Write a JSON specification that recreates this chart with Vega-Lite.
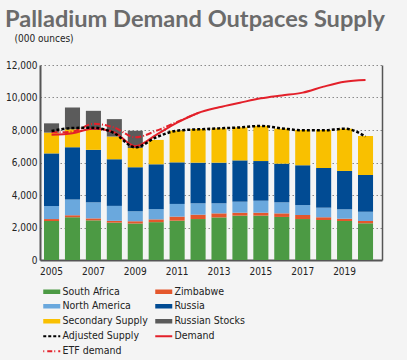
{
  "$schema": "https://vega.github.io/schema/vega-lite/v6.json",
  "width": 342,
  "height": 195,
  "autosize": {"type": "none"},
  "padding": {"left": 40, "top": 65, "right": 25, "bottom": 100},
  "background": "#f4f4f4",
  "title": {
    "text": "Palladium Demand Outpaces Supply",
    "anchor": "start",
    "frame": "group",
    "font": "Lato",
    "fontWeight": "bold",
    "fontSize": 23.6,
    "color": "#6b6b6b",
    "dx": -35,
    "dy": 11,
    "offset": 12
  },
  "config": {
    "view": {"stroke": null},
    "font": "Liberation Sans Narrow, DejaVu Sans Condensed, sans-serif",
    "legend": {
      "orient": "none",
      "legendX": 3,
      "legendY": 221,
      "columns": 2,
      "direction": "horizontal",
      "gridAlign": "all",
      "padding": 0,
      "columnPadding": -2,
      "rowPadding": -12,
      "symbolType": "M-1,0H2.4",
      "symbolSize": 100,
      "labelOffset": 9,
      "labelFont": "Liberation Sans Narrow, DejaVu Sans Condensed, sans-serif",
      "labelFontSize": 10.5,
      "labelColor": "#222222",
      "labelLimit": 200,
      "title": null
    }
  },
  "datasets": {
    "supply": [
      {"year": "2005", "source": "South Africa", "value": 2400},
      {"year": "2005", "source": "Zimbabwe", "value": 120},
      {"year": "2005", "source": "North America", "value": 800},
      {"year": "2005", "source": "Russia", "value": 3240},
      {"year": "2005", "source": "Secondary Supply", "value": 1280},
      {"year": "2005", "source": "Russian Stocks", "value": 570},
      {"year": "2006", "source": "South Africa", "value": 2630},
      {"year": "2006", "source": "Zimbabwe", "value": 130},
      {"year": "2006", "source": "North America", "value": 970},
      {"year": "2006", "source": "Russia", "value": 3210},
      {"year": "2006", "source": "Secondary Supply", "value": 1100},
      {"year": "2006", "source": "Russian Stocks", "value": 1350},
      {"year": "2007", "source": "South Africa", "value": 2440},
      {"year": "2007", "source": "Zimbabwe", "value": 120},
      {"year": "2007", "source": "North America", "value": 990},
      {"year": "2007", "source": "Russia", "value": 3230},
      {"year": "2007", "source": "Secondary Supply", "value": 1220},
      {"year": "2007", "source": "Russian Stocks", "value": 1180},
      {"year": "2008", "source": "South Africa", "value": 2300},
      {"year": "2008", "source": "Zimbabwe", "value": 110},
      {"year": "2008", "source": "North America", "value": 920},
      {"year": "2008", "source": "Russia", "value": 2870},
      {"year": "2008", "source": "Secondary Supply", "value": 1400},
      {"year": "2008", "source": "Russian Stocks", "value": 1070},
      {"year": "2009", "source": "South Africa", "value": 2250},
      {"year": "2009", "source": "Zimbabwe", "value": 140},
      {"year": "2009", "source": "North America", "value": 610},
      {"year": "2009", "source": "Russia", "value": 2710},
      {"year": "2009", "source": "Secondary Supply", "value": 1180},
      {"year": "2009", "source": "Russian Stocks", "value": 1060},
      {"year": "2010", "source": "South Africa", "value": 2330},
      {"year": "2010", "source": "Zimbabwe", "value": 170},
      {"year": "2010", "source": "North America", "value": 630},
      {"year": "2010", "source": "Russia", "value": 2760},
      {"year": "2010", "source": "Secondary Supply", "value": 1500},
      {"year": "2011", "source": "South Africa", "value": 2420},
      {"year": "2011", "source": "Zimbabwe", "value": 250},
      {"year": "2011", "source": "North America", "value": 780},
      {"year": "2011", "source": "Russia", "value": 2560},
      {"year": "2011", "source": "Secondary Supply", "value": 1950},
      {"year": "2012", "source": "South Africa", "value": 2520},
      {"year": "2012", "source": "Zimbabwe", "value": 270},
      {"year": "2012", "source": "North America", "value": 700},
      {"year": "2012", "source": "Russia", "value": 2500},
      {"year": "2012", "source": "Secondary Supply", "value": 2070},
      {"year": "2013", "source": "South Africa", "value": 2620},
      {"year": "2013", "source": "Zimbabwe", "value": 250},
      {"year": "2013", "source": "North America", "value": 620},
      {"year": "2013", "source": "Russia", "value": 2500},
      {"year": "2013", "source": "Secondary Supply", "value": 2110},
      {"year": "2014", "source": "South Africa", "value": 2730},
      {"year": "2014", "source": "Zimbabwe", "value": 180},
      {"year": "2014", "source": "North America", "value": 680},
      {"year": "2014", "source": "Russia", "value": 2540},
      {"year": "2014", "source": "Secondary Supply", "value": 2030},
      {"year": "2015", "source": "South Africa", "value": 2730},
      {"year": "2015", "source": "Zimbabwe", "value": 180},
      {"year": "2015", "source": "North America", "value": 740},
      {"year": "2015", "source": "Russia", "value": 2440},
      {"year": "2015", "source": "Secondary Supply", "value": 2160},
      {"year": "2016", "source": "South Africa", "value": 2650},
      {"year": "2016", "source": "Zimbabwe", "value": 220},
      {"year": "2016", "source": "North America", "value": 680},
      {"year": "2016", "source": "Russia", "value": 2380},
      {"year": "2016", "source": "Secondary Supply", "value": 2150},
      {"year": "2017", "source": "South Africa", "value": 2520},
      {"year": "2017", "source": "Zimbabwe", "value": 250},
      {"year": "2017", "source": "North America", "value": 610},
      {"year": "2017", "source": "Russia", "value": 2450},
      {"year": "2017", "source": "Secondary Supply", "value": 2170},
      {"year": "2018", "source": "South Africa", "value": 2460},
      {"year": "2018", "source": "Zimbabwe", "value": 170},
      {"year": "2018", "source": "North America", "value": 590},
      {"year": "2018", "source": "Russia", "value": 2440},
      {"year": "2018", "source": "Secondary Supply", "value": 2340},
      {"year": "2019", "source": "South Africa", "value": 2400},
      {"year": "2019", "source": "Zimbabwe", "value": 140},
      {"year": "2019", "source": "North America", "value": 580},
      {"year": "2019", "source": "Russia", "value": 2360},
      {"year": "2019", "source": "Secondary Supply", "value": 2600},
      {"year": "2020", "source": "South Africa", "value": 2260},
      {"year": "2020", "source": "Zimbabwe", "value": 140},
      {"year": "2020", "source": "North America", "value": 570},
      {"year": "2020", "source": "Russia", "value": 2260},
      {"year": "2020", "source": "Secondary Supply", "value": 2400}
    ],
    "lines": [
      {"year": "2005", "series": "Adjusted Supply", "value": 7940},
      {"year": "2006", "series": "Adjusted Supply", "value": 8120},
      {"year": "2007", "series": "Adjusted Supply", "value": 8140},
      {"year": "2008", "series": "Adjusted Supply", "value": 7800},
      {"year": "2009", "series": "Adjusted Supply", "value": 6930},
      {"year": "2010", "series": "Adjusted Supply", "value": 7550},
      {"year": "2011", "series": "Adjusted Supply", "value": 7960},
      {"year": "2012", "series": "Adjusted Supply", "value": 8040},
      {"year": "2013", "series": "Adjusted Supply", "value": 8100},
      {"year": "2014", "series": "Adjusted Supply", "value": 8160},
      {"year": "2015", "series": "Adjusted Supply", "value": 8250},
      {"year": "2016", "series": "Adjusted Supply", "value": 8100},
      {"year": "2017", "series": "Adjusted Supply", "value": 7980},
      {"year": "2018", "series": "Adjusted Supply", "value": 7980},
      {"year": "2019", "series": "Adjusted Supply", "value": 8080},
      {"year": "2020", "series": "Adjusted Supply", "value": 7600},
      {"year": "2005", "series": "Demand", "value": 7700},
      {"year": "2006", "series": "Demand", "value": 7800},
      {"year": "2007", "series": "Demand", "value": 8100},
      {"year": "2008", "series": "Demand", "value": 7850},
      {"year": "2009", "series": "Demand", "value": 7000},
      {"year": "2010", "series": "Demand", "value": 7700},
      {"year": "2011", "series": "Demand", "value": 8450},
      {"year": "2012", "series": "Demand", "value": 9050},
      {"year": "2013", "series": "Demand", "value": 9400},
      {"year": "2014", "series": "Demand", "value": 9680},
      {"year": "2015", "series": "Demand", "value": 9950},
      {"year": "2016", "series": "Demand", "value": 10130},
      {"year": "2017", "series": "Demand", "value": 10300},
      {"year": "2018", "series": "Demand", "value": 10670},
      {"year": "2019", "series": "Demand", "value": 10970},
      {"year": "2020", "series": "Demand", "value": 11080},
      {"year": "2005", "series": "ETF demand", "value": 7850},
      {"year": "2006", "series": "ETF demand", "value": 7900},
      {"year": "2007", "series": "ETF demand", "value": 8380},
      {"year": "2008", "series": "ETF demand", "value": 8150},
      {"year": "2009", "series": "ETF demand", "value": 7550},
      {"year": "2010", "series": "ETF demand", "value": 7950},
      {"year": "2011", "series": "ETF demand", "value": 8500},
      {"year": "2012", "series": "ETF demand", "value": 9050}
    ]
  },
  "resolve": {"axis": {"y": "independent"}},
  "encoding": {
    "x": {
      "field": "year",
      "type": "ordinal",
      "scale": {"paddingInner": 0.28, "paddingOuter": 0.31, "align": 0.31},
      "axis": {
        "values": ["2005", "2007", "2009", "2011", "2013", "2015", "2017", "2019"],
        "labelAngle": 0,
        "title": null,
        "ticks": false,
        "grid": false,
        "domainColor": "#555555",
        "domainWidth": 2,
        "labelPadding": 6,
        "labelFontSize": 10,
        "labelColor": "#222222",
        "labelFont": "Liberation Sans Narrow, DejaVu Sans Condensed, sans-serif"
      }
    }
  },
  "layer": [
    {
      "data": {"name": "supply"},
      "transform": [
        {"calculate": "indexof(['South Africa','Zimbabwe','North America','Russia','Secondary Supply','Russian Stocks'], datum.source)", "as": "stackRank"}
      ],
      "mark": {"type": "bar"},
      "encoding": {
        "y": {
          "field": "value",
          "type": "quantitative",
          "stack": "zero",
          "scale": {"domain": [0, 12000], "nice": false},
          "axis": {
            "values": [0, 2000, 4000, 6000, 8000, 10000, 12000],
            "format": ",.0f",
            "ticks": false,
            "grid": true,
            "gridDash": [1.5, 2.5],
            "gridColor": "#8a8a8a",
            "gridWidth": 1,
            "domainColor": "#555555",
            "domainWidth": 2,
            "labelPadding": 3,
            "labelFontSize": 10,
            "labelColor": "#222222",
            "labelFont": "Liberation Sans Narrow, DejaVu Sans Condensed, sans-serif",
            "title": "(000 ounces)",
            "titleAngle": 0,
            "titleX": -26,
            "titleY": -24,
            "titleAlign": "left",
            "titleBaseline": "alphabetic",
            "titleFont": "Liberation Sans Narrow, DejaVu Sans Condensed, sans-serif",
            "titleFontWeight": "normal",
            "titleFontSize": 10,
            "titleColor": "#222222"
          }
        },
        "order": {"field": "stackRank", "type": "quantitative", "sort": "ascending"},
        "color": {
          "field": "source",
          "type": "nominal",
          "scale": {
            "domain": ["South Africa", "Zimbabwe", "North America", "Russia", "Secondary Supply", "Russian Stocks", "Adjusted Supply", "Demand", "ETF demand"],
            "range": ["#4c9a44", "#e4572c", "#6aa8dd", "#014b93", "#f9c000", "#5b5b5b", "#000000", "#e3202a", "#e3202a"]
          },
          "legend": {
            "encode": {
              "symbols": {
                "update": {
                  "fill": {"value": "transparent"},
                  "stroke": {"scale": "color", "field": "value"},
                  "strokeWidth": {"signal": "indexof(['Adjusted Supply','Demand','ETF demand'], datum.value) >= 0 ? 2 : 4.5"},
                  "strokeDash": {"signal": "datum.value == 'Adjusted Supply' ? [3,2] : datum.value == 'ETF demand' ? [1,3,5,2] : [1,0]"},
                  "opacity": {"value": 1}
                }
              }
            }
          }
        }
      }
    },
    {
      "data": {"name": "lines"},
      "transform": [{"filter": "datum.series == 'Demand'"}],
      "mark": {"type": "line", "strokeWidth": 2, "interpolate": "monotone"},
      "encoding": {
        "y": {
          "field": "value",
          "type": "quantitative",
          "axis": {"orient": "right", "labels": false, "ticks": false, "grid": false, "domain": true, "domainColor": "#555555", "domainWidth": 1.5, "title": null}
        },
        "color": {"field": "series", "type": "nominal"}
      }
    },
    {
      "data": {"name": "lines"},
      "transform": [{"filter": "datum.series == 'ETF demand'"}],
      "mark": {"type": "line", "strokeWidth": 2, "strokeDash": [6, 2, 1, 2], "interpolate": "monotone"},
      "encoding": {
        "y": {"field": "value", "type": "quantitative", "axis": null},
        "color": {"field": "series", "type": "nominal"}
      }
    },
    {
      "data": {"name": "lines"},
      "transform": [{"filter": "datum.series == 'Adjusted Supply'"}],
      "mark": {"type": "line", "strokeWidth": 2.5, "strokeDash": [3, 2], "interpolate": "monotone"},
      "encoding": {
        "y": {"field": "value", "type": "quantitative", "axis": null},
        "color": {"field": "series", "type": "nominal"}
      }
    }
  ]
}
